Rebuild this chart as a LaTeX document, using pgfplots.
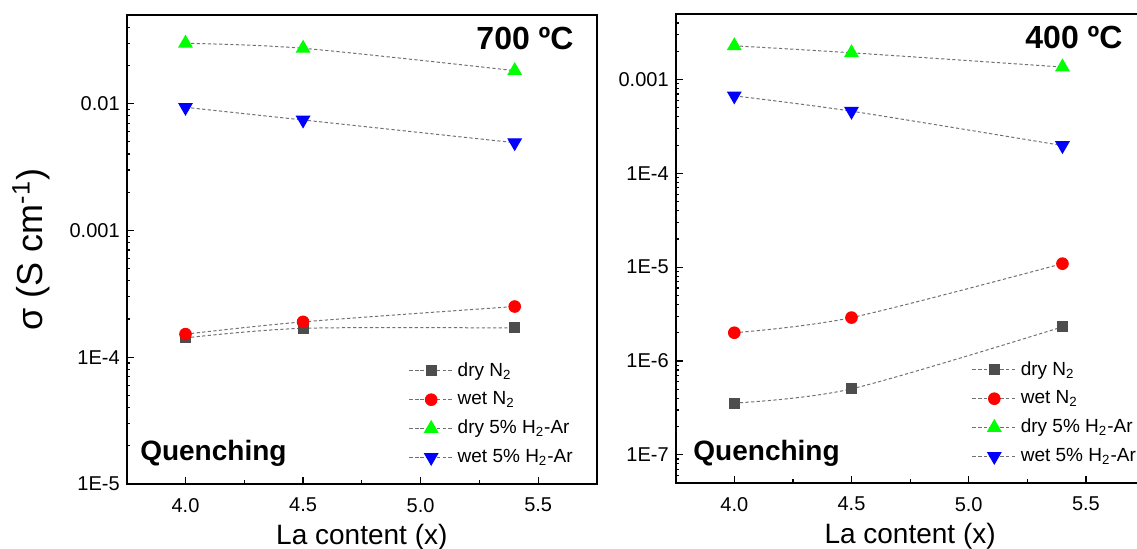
\documentclass[border=0pt]{standalone}
\usepackage{fontspec}
\setmainfont{Liberation Sans}
\usepackage{pgfplots}
\pgfplotsset{compat=1.18}

\definecolor{sqgray}{HTML}{4D4D4D}
\definecolor{lgray}{HTML}{707070}
\definecolor{mgreen}{HTML}{00FF00}
\definecolor{mblue}{HTML}{0000FF}
\definecolor{mred}{HTML}{FF0000}

\pgfplotsset{
 myaxis/.style={
  scale only axis, anchor=south west,
  xmin=3.75, xmax=5.75,
  xtick={4,4.5,5,5.5}, minor xtick={4.25,4.75,5.25},
  tick align=inside, xtick pos=bottom, ytick pos=left,
  axis line style={line width=0.9pt},
  every tick/.style={black, line width=0.6pt},
  major tick length=3.5pt, minor tick length=1.8pt,
  tick label style={font=\fontsize{10}{12}\selectfont},
  x tick label style={yshift=-3.5pt},
  xticklabels={4.0,4.5,5.0,5.5},
  legend cell align=left,
  legend style={draw=none, fill=none, font=\fontsize{9.5}{11.5}\selectfont, row sep=2.2pt, anchor=north west},
  legend image code/.code={\draw[##1, mark repeat=2, mark phase=2] plot coordinates {(0pt,0pt) (11pt,0pt) (22pt,0pt)};},
  xlabel={La content (x)},
  xlabel style={font=\fontsize{14}{17}\selectfont, at={(axis description cs:0.5,-0.130)}, anchor=base},
 },
 dline/.style={lgray, line width=0.5pt, dash pattern=on 1.6pt off 1.2pt, smooth},
 sq/.style={dline, mark=square*, mark size=2.5pt, mark options={solid, fill=sqgray, draw=sqgray}},
 ci/.style={dline, mark=*, mark size=2.9pt, mark options={solid, fill=mred, draw=mred}},
 tu/.style={dline, mark=triangle*, mark size=3.8pt, mark options={solid, fill=mgreen, draw=mgreen}},
 td/.style={dline, mark=triangle*, mark size=3.8pt, mark options={solid, fill=mblue, draw=mblue, rotate=180}},
}

\begin{document}
\begin{tikzpicture}
\begin{axis}[myaxis, ymode=log,
  at={(63.35pt,32.5pt)}, width=235.15pt, height=234.5pt,
  ymin=1e-5, ymax=0.05,
  ytick={1e-5,1e-4,1e-3,1e-2},
  yticklabels={1E-5,1E-4,0.001,0.01},
  minor ytick={2e-5,3e-5,4e-5,5e-5,6e-5,7e-5,8e-5,9e-5,2e-4,3e-4,4e-4,5e-4,6e-4,7e-4,8e-4,9e-4,2e-3,3e-3,4e-3,5e-3,6e-3,7e-3,8e-3,9e-3,2e-2,3e-2,4e-2},
  ylabel={σ (S cm\textsuperscript{-1})},
  ylabel style={font=\fontsize{18}{21}\selectfont, at={(axis description cs:-0.180,0.5)}, anchor=base},
  legend style={at={(axis description cs:0.586,0.277)}},
]
\addplot[sq] coordinates {(4.0,1.42e-4) (4.5,1.69e-4) (5.4,1.70e-4)};
\addlegendentry{dry N\textsubscript{2}}
\addplot[ci] coordinates {(4.0,1.52e-4) (4.5,1.90e-4) (5.4,2.51e-4)};
\addlegendentry{wet N\textsubscript{2}}
\addplot[tu] coordinates {(4.0,0.0299) (4.5,0.0273) (5.4,0.0182)};
\addlegendentry{dry 5\% H\textsubscript{2}-Ar}
\addplot[td] coordinates {(4.0,0.00935) (4.5,0.00743) (5.4,0.00492)};
\addlegendentry{wet 5\% H\textsubscript{2}-Ar}
\node[anchor=east, inner sep=0pt, font=\bfseries\fontsize{16}{19}\selectfont] at (axis description cs:0.951,0.949) {700 ºC};
\node[anchor=west, inner sep=0pt, font=\bfseries\fontsize{14}{17}\selectfont] at (axis description cs:0.028,0.066) {Quenching};
\end{axis}

\begin{axis}[myaxis, ymode=log,
  at={(337.85pt,33pt)}, width=234.4pt, height=234.5pt,
  ymin=5e-8, ymax=5e-3,
  ytick={1e-7,1e-6,1e-5,1e-4,1e-3},
  yticklabels={1E-7,1E-6,1E-5,1E-4,0.001},
  minor ytick={6e-8,7e-8,8e-8,9e-8,2e-7,3e-7,4e-7,5e-7,6e-7,7e-7,8e-7,9e-7,2e-6,3e-6,4e-6,5e-6,6e-6,7e-6,8e-6,9e-6,2e-5,3e-5,4e-5,5e-5,6e-5,7e-5,8e-5,9e-5,2e-4,3e-4,4e-4,5e-4,6e-4,7e-4,8e-4,9e-4,2e-3,3e-3,4e-3},
  legend style={at={(axis description cs:0.618,0.277)}},
]
\addplot[sq] coordinates {(4.0,3.56e-7) (4.5,5.04e-7) (5.4,2.31e-6)};
\addlegendentry{dry N\textsubscript{2}}
\addplot[ci] coordinates {(4.0,2.0e-6) (4.5,2.9e-6) (5.4,1.09e-5)};
\addlegendentry{wet N\textsubscript{2}}
\addplot[tu] coordinates {(4.0,2.29e-3) (4.5,1.93e-3) (5.4,1.36e-3)};
\addlegendentry{dry 5\% H\textsubscript{2}-Ar}
\addplot[td] coordinates {(4.0,6.7e-4) (4.5,4.6e-4) (5.4,1.98e-4)};
\addlegendentry{wet 5\% H\textsubscript{2}-Ar}
\node[anchor=east, inner sep=0pt, font=\bfseries\fontsize{16}{19}\selectfont] at (axis description cs:0.954,0.949) {400 ºC};
\node[anchor=west, inner sep=0pt, font=\bfseries\fontsize{14}{17}\selectfont] at (axis description cs:0.037,0.064) {Quenching};
\end{axis}
\pgfresetboundingbox
\path[use as bounding box] (0,0) rectangle (568.5pt,274.5pt);
\end{tikzpicture}
\end{document}
